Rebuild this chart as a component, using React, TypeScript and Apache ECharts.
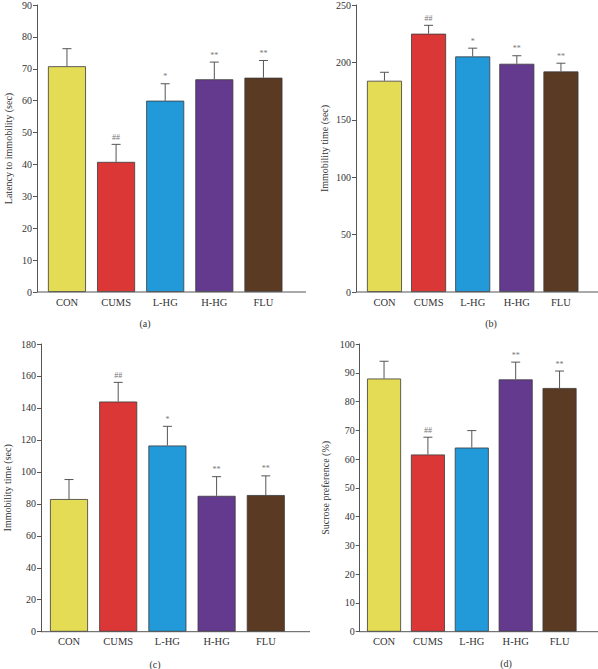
import React, { useEffect, useRef } from "react";
import * as echarts from "echarts";

const categories = ["CON", "CUMS", "L-HG", "H-HG", "FLU"];
const barColors = ["#E4DC55", "#DC3737", "#2299D8", "#643A8E", "#5B3A24"];

// (a) Latency to immobility (sec)
const latencyMean = [70.8, 40.8, 60.0, 66.7, 67.2];
const latencyErr = [5.5, 5.5, 5.3, 5.4, 5.4];
const latencyMarks = ["", "##", "*", "**", "**"];

// (b) Immobility time (sec)
const immobBMean = [184, 225, 205.2, 198.8, 192.1];
const immobBErr = [7.4, 7.3, 7.2, 7.0, 7.2];
const immobBMarks = ["", "##", "*", "**", "**"];

// (c) Immobility time (sec)
const immobCMean = [83.0, 144.0, 116.5, 85.0, 85.5];
const immobCErr = [12.2, 12.0, 12.0, 12.0, 12.0];
const immobCMarks = ["", "##", "*", "**", "**"];

// (d) Sucrose preference (%)
const sucroseMean = [88.0, 61.6, 64.0, 87.7, 84.7];
const sucroseErr = [6.0, 6.0, 5.9, 6.0, 5.9];
const sucroseMarks = ["", "##", "", "**", "**"];

const FONT = "'Liberation Serif', 'DejaVu Serif', serif";

type Panel = {
  name: string;
  mean: number[];
  err: number[];
  marks: string[];
  max: number;
  interval: number;
  left: number;
  width: number;
  top: number;
  height: number;
  yOffset: number;
  nameGap: number;
  barWidth: number;
  labelMargin: number;
};

const panels: Panel[] = [
  { name: "Latency to immobility (sec)", mean: latencyMean, err: latencyErr, marks: latencyMarks, max: 90, interval: 10, left: 42.4, width: 245.6, top: 4, height: 288, yOffset: 5.4, nameGap: 24, barWidth: 38, labelMargin: 5 },
  { name: "Immobility time (sec)", mean: immobBMean, err: immobBErr, marks: immobBMarks, max: 250, interval: 50, left: 362.4, width: 220.6, top: 4, height: 288, yOffset: 6.4, nameGap: 27, barWidth: 35, labelMargin: 5 },
  { name: "Immobility time (sec)", mean: immobCMean, err: immobCErr, marks: immobCMarks, max: 180, interval: 20, left: 44.4, width: 246, top: 344, height: 287.7, yOffset: 3.4, nameGap: 29, barWidth: 38, labelMargin: 4.5 },
  { name: "Sucrose preference (%)", mean: sucroseMean, err: sucroseErr, marks: sucroseMarks, max: 100, interval: 10, left: 362.1, width: 219.4, top: 344, height: 287.7, yOffset: 2.4, nameGap: 29, barWidth: 34, labelMargin: 4.5 },
];

const axisLines = [
  { x1: 37, x2: 306, y: 292 },
  { x1: 356, x2: 598, y: 292 },
  { x1: 41, x2: 310, y: 631.7 },
  { x1: 359.7, x2: 598, y: 631.7 },
];

const captions = [
  { text: "(a)", x: 145, y: 323 },
  { text: "(b)", x: 491, y: 323 },
  { text: "(c)", x: 155, y: 664 },
  { text: "(d)", x: 506, y: 663 },
];

export default function App() {
  const ref = useRef<HTMLDivElement>(null);
  useEffect(() => {
    document.body.style.margin = "0";
    if (!ref.current) return;
    const chart = echarts.init(ref.current, null, { renderer: "svg" });

    const grid = panels.map((p) => ({ left: p.left, top: p.top, width: p.width, height: p.height, containLabel: false }));
    const xAxis = panels.map((p, gi) => ({
      type: "category",
      gridIndex: gi,
      data: categories,
      axisLine: { show: false },
      axisTick: { show: false },
      axisLabel: { margin: p.labelMargin, fontSize: 10.5, color: "#333", fontFamily: FONT, interval: 0 },
    }));
    const yAxis = panels.map((p, gi) => ({
      type: "value",
      gridIndex: gi,
      min: 0,
      max: p.max,
      interval: p.interval,
      offset: p.yOffset,
      name: p.name,
      nameLocation: "middle",
      nameRotate: 90,
      nameGap: p.nameGap,
      nameTextStyle: { fontSize: 10, color: "#333", fontFamily: FONT },
      axisLine: { show: true, lineStyle: { color: "#555", width: 1 } },
      axisTick: { show: true, length: 4, lineStyle: { color: "#555" } },
      axisLabel: { fontSize: 10, color: "#333", margin: 5, fontFamily: FONT },
      splitLine: { show: false },
    }));

    const series: any[] = [];
    panels.forEach((p, gi) => {
      series.push({
        type: "bar",
        xAxisIndex: gi,
        yAxisIndex: gi,
        barWidth: p.barWidth,
        data: p.mean.map((v, i) => ({
          value: v,
          itemStyle: { color: barColors[i], borderColor: "#3a3a3a", borderWidth: 0.8 },
        })),
        z: 2,
      });
      series.push({
        type: "custom",
        xAxisIndex: gi,
        yAxisIndex: gi,
        data: p.mean.map((v, i) => [i, v, v + p.err[i]]),
        z: 3,
        renderItem: (params: any, api: any) => {
          const i = api.value(0);
          const m = api.value(1);
          const e = api.value(2);
          const p0 = api.coord([i, m]);
          const p1 = api.coord([i, e]);
          const mark = p.marks[params.dataIndex];
          return {
            type: "group",
            children: [
              { type: "line", shape: { x1: p0[0], y1: p0[1], x2: p1[0], y2: p1[1] }, style: { stroke: "#555", lineWidth: 1 } },
              { type: "line", shape: { x1: p1[0] - 4.5, y1: p1[1], x2: p1[0] + 4.5, y2: p1[1] }, style: { stroke: "#555", lineWidth: 1 } },
              {
                type: "text",
                style: {
                  text: mark,
                  x: p1[0],
                  y: p1[1] - 3,
                  textAlign: "center",
                  textVerticalAlign: "bottom",
                  fill: "#777",
                  fontSize: 8,
                  fontFamily: FONT,
                },
              },
            ],
          };
        },
      });
    });

    const graphic: any[] = [
      ...axisLines.map((l) => ({
        type: "line",
        shape: { x1: l.x1, y1: l.y, x2: l.x2, y2: l.y },
        style: { stroke: "#555", lineWidth: 1 },
        z: 10,
      })),
      ...captions.map((c) => ({
        type: "text",
        x: c.x,
        y: c.y,
        style: { text: c.text, textAlign: "center", textVerticalAlign: "middle", fontSize: 10, fill: "#333", fontFamily: FONT },
      })),
    ];

    chart.setOption({
      animation: false,
      backgroundColor: "#ffffff",
      textStyle: { fontFamily: FONT },
      grid,
      xAxis,
      yAxis,
      series,
      graphic,
    });
    return () => chart.dispose();
  }, []);
  return <div ref={ref} style={{ width: 598, height: 669 }} />;
}
